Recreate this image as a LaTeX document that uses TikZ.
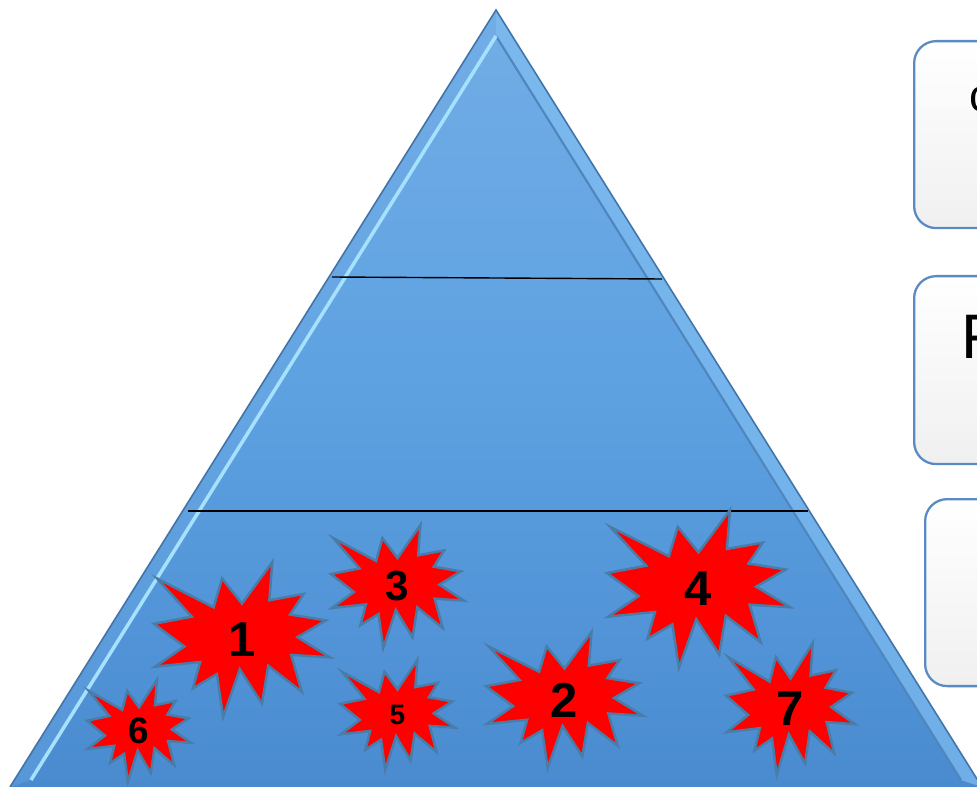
\documentclass[tikz,border=0pt]{standalone}
\usepackage{fontspec}
\setmainfont{Liberation Sans}
\definecolor{triTop}{HTML}{72ADE6}
\definecolor{triMid}{HTML}{5DA1E1}
\definecolor{triBot}{HTML}{4A8BD0}
\definecolor{edgeDark}{HTML}{4274A8}
\definecolor{bevelLight}{HTML}{A6E2FF}
\definecolor{bevelRight}{HTML}{7FBDF1}
\definecolor{bevelShadow}{HTML}{4F86BE}
\definecolor{starEdge}{HTML}{4A7CA8}
\definecolor{boxEdge}{HTML}{5A8AC4}
\tikzset{
  x=0.02cm, y=-0.02cm,
  starshape/.style={fill=red, draw=starEdge, line width=1.4pt, line join=miter},
  starlabel/.style={inner sep=0pt, text=black},
  infobox/.style={draw=boxEdge, line width=1.3pt, rounded corners=0.44cm,
    top color=white, bottom color=black!6, minimum width=2cm, inner sep=0pt},
  boxtext/.style={inner sep=0pt, anchor=base west, text=black},
  divider/.style={black, line width=0.8pt}
}
\newcommand{\explosion}[7]{%
  \begin{scope}[shift={(#2,#3)}, xscale=#4, yscale=#5]
    \draw[starshape] (0.5,0.2685) -- (0.6723,0) -- (0.6553,0.2465) -- (0.8509,0.2063) -- (0.7732,0.3387) -- (0.9767,0.3767) -- (0.8151,0.4850) -- (1,0.6153) -- (0.7795,0.5992) -- (0.8400,0.8377) -- (0.6491,0.6693) -- (0.6133,0.9138) -- (0.4876,0.6914) -- (0.3928,1) -- (0.3572,0.7235) -- (0.2205,0.8156) -- (0.2624,0.6452) -- (0.00625,0.6753) -- (0.1723,0.5451) -- (0,0.3988) -- (0.2142,0.3526) -- (0.0171,0.1063) -- (0.3385,0.2926) -- (0.3867,0.1063) -- cycle;
  \end{scope}
  \node[starlabel, font=\fontsize{#7pt}{#7pt}\selectfont\bfseries] (#1) at ({#2+#4/2},{#3+#5/2}) {#6};
}
\begin{document}
\begin{tikzpicture}
\useasboundingbox (0,0) rectangle (977,787);
\clip (0,0) rectangle (977,787);
\fill[white] (0,0) rectangle (977,787);

% right boxes
\node[infobox, minimum width=2cm, minimum height=3.74cm, anchor=north west] (b1) at (913,40) {};
\node[infobox, minimum width=2cm, minimum height=3.76cm, anchor=north west] (b2) at (913,275) {};
\node[infobox, minimum width=2cm, minimum height=3.74cm, anchor=north west] (b3) at (924,498) {};
\node[boxtext, font=\fontsize{26pt}{26pt}\selectfont] (t1) at (969,112) {c};
\node[boxtext, font=\fontsize{35.8pt}{35.8pt}\selectfont] (t2) at (961,358) {F};

% pyramid
\coordinate (A) at (496,10);
\coordinate (BL) at (10,787);
\coordinate (BR) at (982,787);
\coordinate (IA) at (496,36);
\coordinate (IBL) at (31,780);
\coordinate (IBR) at (961,780);
\shade[top color=triTop, bottom color=triBot, middle color=triMid] (A) -- (BL) -- (BR) -- cycle;
\fill[bevelRight, opacity=0.7] (A) -- (BR) -- (IBR) -- (IA) -- cycle;
\fill[triTop, opacity=0.35] (A) -- (BL) -- (IBL) -- (IA) -- cycle;
\draw[bevelShadow, line width=1.2pt] (IA) -- (IBR);
\draw[bevelLight, line width=2pt] (IA) -- (IBL);
\draw[edgeDark, line width=0.9pt, line join=miter] (BL) -- (A) -- (BR);

% dividers
\coordinate (u1) at (332,277);
\coordinate (u2) at (662,279);
\coordinate (l1) at (188,511);
\coordinate (l2) at (808,511);
\draw[divider] (u1) -- (u2);
\draw[divider] (l1) -- (l2);

% explosions
\explosion{s1}{154}{562}{176}{155}{1}{27.9}
\explosion{s3}{331}{525}{133}{123}{3}{24}
\explosion{s5}{340}{660}{115}{110}{5}{16}
\explosion{s2}{486}{632}{157}{136}{2}{27.9}
\explosion{s4}{607}{510}{183}{158}{4}{27.9}
\explosion{s7}{726}{643}{129}{132}{7}{27.9}
\explosion{s6}{87}{680}{104}{102}{6}{21}
\end{tikzpicture}
\end{document}
